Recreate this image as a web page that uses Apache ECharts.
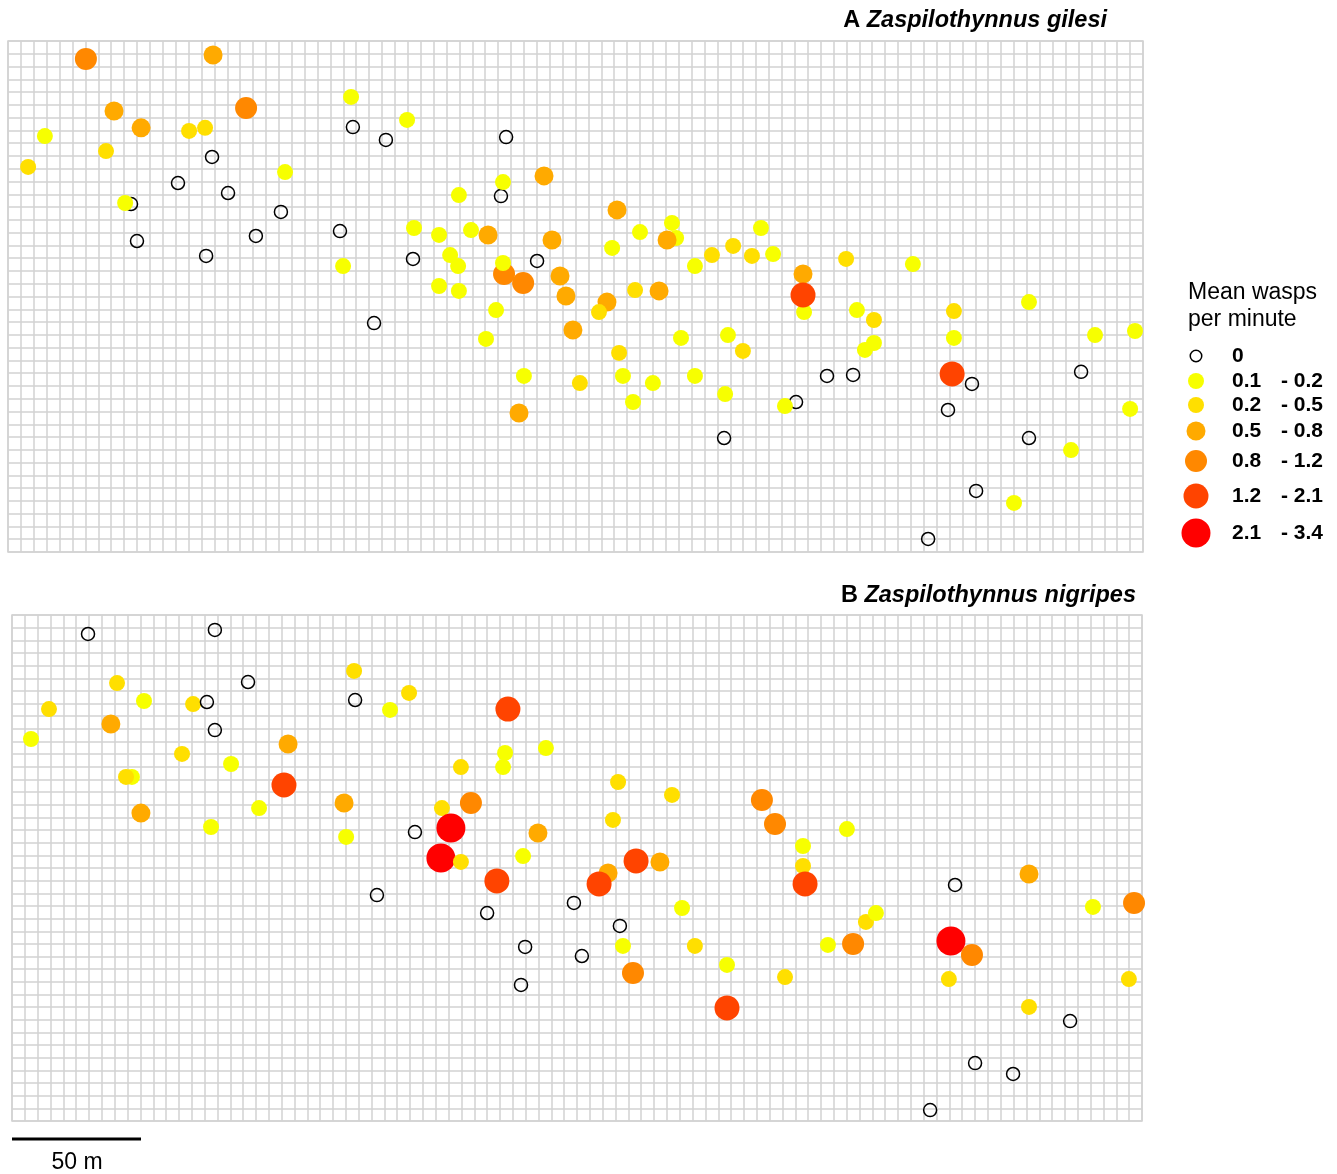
<!DOCTYPE html>
<html><head><meta charset="utf-8">
<script src="https://cdn.jsdelivr.net/npm/echarts@6/dist/echarts.min.js"></script>
<style>html,body{margin:0;padding:0;background:#fff}#c{width:1337px;height:1174px}</style>
</head><body><div id="c"></div>
<script>
// ---- data: [x (m), y (m), class index] ----
const classLow  = ['0', '0.1', '0.2', '0.5', '0.8', '1.2', '2.1'];
const classHigh = [null, '0.2', '0.5', '0.8', '1.2', '2.1', '3.4'];
const sitesA = [
[30.2,193.0,4],[79.5,194.5,3],[92.3,173.8,4],[41.1,172.6,3],[51.6,166.0,3],[14.3,162.8,1],[38.0,156.9,2],[7.8,150.7,2],[70.2,164.8,2],[76.4,166.0,2],[79.1,154.6,0],[65.9,144.4,0],[85.3,140.5,0],[107.4,148.7,1],[105.8,133.1,0],[47.7,136.2,0],[45.4,136.6,1],[50.0,121.7,0],[76.8,115.9,0],[96.1,123.7,0],[133.0,178.1,1],[133.7,166.3,0],[146.5,161.3,0],[154.7,169.1,1],[193.1,162.4,0],[128.7,125.6,0],[129.9,111.9,1],[141.9,89.6,0],[157.0,114.7,0],[174.8,139.7,1],[191.1,139.3,0],[191.9,144.8,1],[207.8,147.2,3],[236.1,133.9,3],[157.4,126.8,1],[167.1,124.1,1],[179.5,126.0,1],[186.1,124.1,3],[210.9,122.1,3],[171.4,116.2,1],[174.5,111.9,1],[192.3,108.8,4],[191.9,113.1,1],[199.7,105.3,4],[205.1,113.9,0],[214.0,108.0,3],[167.1,104.1,1],[174.8,102.2,1],[216.3,100.2,3],[232.2,97.8,3],[229.1,93.9,2],[189.2,94.7,1],[185.3,83.4,1],[219.0,86.9,3],[245.0,125.2,1],[234.2,119.0,1],[257.4,128.8,1],[259.0,122.9,1],[255.5,122.1,3],[243.1,102.5,2],[252.4,102.2,3],[266.3,111.9,1],[272.9,116.2,2],[260.9,83.8,1],[236.9,77.9,2],[200.0,68.9,1],[221.7,66.1,2],[238.4,68.9,1],[250.0,66.1,1],[242.3,58.7,1],[266.3,68.9,1],[198.1,54.4,3],[281.1,119.8,2],[288.4,115.9,2],[296.6,116.6,1],[291.9,126.8,1],[308.2,108.8,3],[308.6,93.9,1],[308.2,100.6,5],[324.9,114.7,2],[350.8,112.7,1],[329.1,94.7,1],[335.7,90.8,2],[335.7,81.8,1],[332.2,79.1,1],[279.1,84.9,1],[284.9,78.7,2],[278.0,61.8,1],[277.6,44.6,0],[305.5,58.7,0],[301.2,57.1,1],[317.5,68.9,0],[327.6,69.3,0],[366.7,94.3,2],[366.7,83.8,1],[366.0,69.7,5],[373.7,65.8,0],[364.4,55.6,0],[395.8,97.8,1],[421.4,84.9,1],[436.9,86.5,1],[416.0,70.5,0],[435.0,56.0,1],[395.8,44.6,0],[412.1,39.9,1],[375.3,23.9,0],[390.0,19.2,1],[356.7,5.1,0]
];
const sitesB = [
[29.6,192.5,0],[79.0,194.1,0],[91.9,173.5,0],[40.9,173.1,2],[51.4,166.0,1],[70.5,164.8,2],[75.9,165.6,0],[79.0,154.5,0],[14.4,162.8,2],[38.5,156.9,3],[7.4,151.0,1],[66.2,145.1,2],[85.3,141.1,1],[107.5,149.0,3],[46.7,136.0,1],[44.4,136.0,2],[105.9,132.8,5],[50.2,121.7,3],[77.5,116.2,1],[96.2,123.7,1],[133.2,177.9,2],[133.6,166.4,0],[154.6,169.2,2],[147.2,162.5,1],[129.3,125.7,3],[130.1,112.3,1],[142.1,89.3,0],[156.9,114.2,0],[193.1,162.8,5],[192.0,145.5,1],[191.2,139.9,1],[207.9,147.4,1],[174.8,139.9,2],[167.4,123.7,2],[178.7,125.7,4],[170.9,115.8,6],[167.0,104.0,6],[174.8,102.4,2],[199.0,104.7,1],[204.8,113.8,3],[188.8,94.9,5],[236.0,134.0,2],[257.0,128.9,2],[234.0,119.0,2],[252.3,102.4,3],[232.1,98.0,3],[243.0,102.8,5],[228.6,93.7,5],[185.0,82.2,0],[218.8,86.2,0],[236.7,77.1,0],[260.9,84.2,1],[199.8,68.8,0],[221.9,65.2,0],[237.9,69.2,1],[265.9,69.2,2],[241.8,58.5,4],[198.2,53.8,0],[278.4,44.7,5],[278.4,61.7,1],[292.0,126.9,4],[297.1,117.4,4],[308.0,108.7,1],[308.0,100.8,2],[308.8,93.7,5],[325.1,115.4,1],[301.0,56.9,2],[317.7,69.6,1],[327.5,70.0,4],[332.5,78.7,2],[336.4,82.2,1],[367.2,93.3,0],[365.6,71.1,6],[373.8,65.6,4],[364.8,56.1,2],[396.0,97.6,3],[420.9,84.6,1],[436.9,86.2,4],[434.9,56.1,2],[396.0,45.1,2],[412.0,39.5,0],[375.0,22.9,0],[389.8,18.6,0],[357.5,4.3,0]
];

// ---- styles ----
const FONT = '"Liberation Sans", Arial, Helvetica, sans-serif';
const classColors = [null, '#F7FF00', '#FFDF00', '#FFAA00', '#FF8800', '#FF4400', '#FF0000'];
const classSizes = [13, 16, 16, 19, 22, 25, 29];
const legendY = [356, 381, 405, 431, 461, 496, 533];
const GRID_COLOR = '#d2d2d2';

function styleFor(c) {
  return c === 0
    ? { color: 'rgba(255,255,255,0)', borderColor: '#000', borderWidth: 1.5, opacity: 1 }
    : { color: classColors[c], borderWidth: 0, opacity: 1 };
}
function toData(arr) {
  return arr.map(p => ({ value: [p[0], p[1]], symbolSize: classSizes[p[2]], itemStyle: styleFor(p[2]) }));
}
function axis(i, max) {
  return {
    gridIndex: i, type: 'value', min: 0, max: max, interval: 5,
    axisLine: { show: false }, axisTick: { show: false }, axisLabel: { show: false },
    splitLine: { show: true, lineStyle: { color: GRID_COLOR, width: 1.5 } }
  };
}

const graphics = [];
graphics.push({ type: 'text', x: 1188, y: 293, style: { text: 'Mean wasps', font: '23px ' + FONT, fill: '#000', align: 'left', verticalAlign: 'middle' } });
graphics.push({ type: 'text', x: 1188, y: 320, style: { text: 'per minute', font: '23px ' + FONT, fill: '#000', align: 'left', verticalAlign: 'middle' } });
classLow.forEach((lo, i) => {
  const r = classSizes[i] / 2;
  graphics.push({
    type: 'circle', shape: { cx: 1196, cy: legendY[i], r: i === 0 ? r - 0.75 : r },
    style: i === 0 ? { fill: 'none', stroke: '#000', lineWidth: 1.5 } : { fill: classColors[i] }
  });
  graphics.push({ type: 'text', x: 1232, y: legendY[i], style: { text: lo, font: 'bold 21px ' + FONT, fill: '#000', align: 'left', verticalAlign: 'middle' } });
  if (classHigh[i]) {
    graphics.push({ type: 'text', x: 1323, y: legendY[i], style: { text: '- ' + classHigh[i], font: 'bold 21px ' + FONT, fill: '#000', align: 'right', verticalAlign: 'middle' } });
  }
});
// scale bar
graphics.push({ type: 'line', shape: { x1: 12, y1: 1139, x2: 141, y2: 1139 }, style: { stroke: '#000', lineWidth: 3 } });
graphics.push({ type: 'text', x: 77, y: 1163, style: { text: '50 m', font: '23px ' + FONT, fill: '#000', align: 'center', verticalAlign: 'middle' } });

const titleRich = {
  a: { fontWeight: 'bold', fontSize: 23.5, fontFamily: FONT, color: '#000' },
  s: { fontStyle: 'italic', fontSize: 23.5, fontFamily: FONT, color: '#000' }
};

const chart = echarts.init(document.getElementById('c'), null, { renderer: 'canvas' });
chart.setOption({
  animation: false,
  backgroundColor: '#fff',
  title: [
    { text: '{a|A} {s|Zaspilothynnus gilesi}', right: 230, top: 9, padding: 0, textStyle: { rich: titleRich, fontSize: 23.5 } },
    { text: '{a|B} {s|Zaspilothynnus nigripes}', right: 201, top: 584, padding: 0, textStyle: { rich: titleRich, fontSize: 23.5 } }
  ],
  grid: [
    { left: 8, top: 41, width: 1135, height: 511, show: true, borderColor: GRID_COLOR, borderWidth: 1.5, backgroundColor: 'transparent' },
    { left: 12, top: 615, width: 1130, height: 506, show: true, borderColor: GRID_COLOR, borderWidth: 1.5, backgroundColor: 'transparent' }
  ],
  xAxis: [axis(0, 440), axis(1, 440)],
  yAxis: [axis(0, 200), axis(1, 200)],
  series: [
    { type: 'scatter', xAxisIndex: 0, yAxisIndex: 0, symbol: 'circle', clip: false, silent: true, itemStyle: { opacity: 1 }, data: toData(sitesA) },
    { type: 'scatter', xAxisIndex: 1, yAxisIndex: 1, symbol: 'circle', clip: false, silent: true, itemStyle: { opacity: 1 }, data: toData(sitesB) }
  ],
  graphic: graphics
});
</script></body></html>
